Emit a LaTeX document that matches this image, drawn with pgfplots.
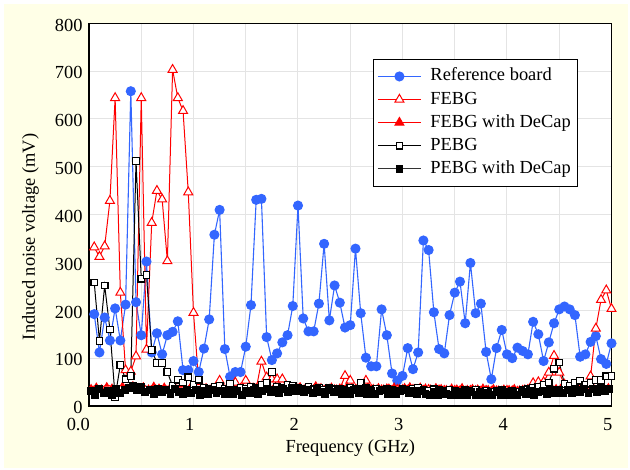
\documentclass[border=0pt]{standalone}
\usepackage{fontspec}
\setmainfont{Liberation Serif}
\usepackage{pgfplots}
\usepackage{pgfplotstable}
\pgfplotsset{compat=1.18}
\definecolor{cream}{RGB}{255,255,231}
\definecolor{refblue}{RGB}{51,102,255}
\definecolor{gridgray}{RGB}{228,228,228}

\pgfplotstableread{
x y
0.05 192
0.10 112
0.15 185
0.20 137
0.25 204
0.30 137
0.35 212
0.40 658
0.45 217
0.50 148
0.55 302
0.60 112
0.65 152
0.70 108
0.75 148
0.80 155
0.85 177
0.90 75
0.95 75
1.00 94
1.05 71
1.10 120
1.15 181
1.20 358
1.25 410
1.30 119
1.35 61
1.40 71
1.45 71
1.50 124
1.55 211
1.60 431
1.65 433
1.70 144
1.75 96
1.80 110
1.85 133
1.90 148
1.95 209
2.00 419
2.05 183
2.10 156
2.15 156
2.20 214
2.25 339
2.30 179
2.35 252
2.40 216
2.45 164
2.50 169
2.55 329
2.60 194
2.65 101
2.70 83
2.75 83
2.80 202
2.85 148
2.90 68
2.95 53
3.00 63
3.05 121
3.10 77
3.15 112
3.20 346
3.25 326
3.30 196
3.35 119
3.40 110
3.45 190
3.50 237
3.55 260
3.60 173
3.65 299
3.70 194
3.75 214
3.80 113
3.85 56
3.90 121
3.95 159
4.00 108
4.05 100
4.10 122
4.15 115
4.20 108
4.25 176
4.30 150
4.35 94
4.40 133
4.45 173
4.50 202
4.55 208
4.60 202
4.65 190
4.70 103
4.75 108
4.80 134
4.85 146
4.90 98
4.95 88
5.00 131
}\refboard

\pgfplotstableread{
x y
0.05 332
0.10 312
0.15 334
0.20 429
0.25 644
0.30 237
0.35 75
0.40 72
0.45 104
0.50 644
0.55 118
0.60 383
0.65 450
0.70 432
0.75 303
0.80 703
0.85 644
0.90 617
0.95 447
1.00 195
1.05 50
1.10 34
1.15 32
1.20 35
1.25 53
1.30 33
1.35 34
1.40 49
1.45 36
1.50 53
1.55 33
1.60 36
1.65 93
1.70 60
1.75 56
1.80 56
1.85 56
1.90 34
1.95 33
2.00 35
2.05 32
2.10 34
2.15 33
2.20 35
2.25 32
2.30 34
2.35 33
2.40 35
2.45 63
2.50 53
2.55 34
2.60 33
2.65 53
2.70 34
2.75 32
2.80 33
2.85 35
2.90 32
2.95 34
3.00 33
3.05 32
3.10 34
3.15 33
3.20 32
3.25 34
3.30 31
3.35 33
3.40 32
3.45 30
3.50 32
3.55 31
3.60 30
3.65 32
3.70 31
3.75 30
3.80 32
3.85 30
3.90 31
3.95 30
4.00 32
4.05 31
4.10 30
4.15 32
4.20 34
4.25 48
4.30 50
4.35 50
4.40 70
4.45 105
4.50 70
4.55 45
4.60 35
4.65 34
4.70 36
4.75 35
4.80 62
4.85 162
4.90 222
4.95 242
5.00 203
}\febg

\pgfplotstableread{
x y
0.02 40
0.07 43
0.12 39
0.17 44
0.22 41
0.27 38
0.32 45
0.37 40
0.42 46
0.47 42
0.52 44
0.57 39
0.62 45
0.67 41
0.72 43
0.77 40
0.82 44
0.87 42
0.92 39
0.97 43
1.02 41
1.07 38
1.12 42
1.17 40
1.22 43
1.27 39
1.32 41
1.37 44
1.42 40
1.47 42
1.52 39
1.57 43
1.62 41
1.67 44
1.72 40
1.77 42
1.82 45
1.87 41
1.92 43
1.97 40
2.02 44
2.07 41
2.12 39
2.17 46
2.22 42
2.27 40
2.32 43
2.37 39
2.42 41
2.47 44
2.52 40
2.57 42
2.62 39
2.67 43
2.72 40
2.77 42
2.82 39
2.87 41
2.92 43
2.97 40
3.02 42
3.07 44
3.12 40
3.17 43
3.22 41
3.27 39
3.32 42
3.37 40
3.42 38
3.47 41
3.52 39
3.57 42
3.62 38
3.67 40
3.72 39
3.77 41
3.82 38
3.87 40
3.92 37
3.97 39
4.02 38
4.07 40
4.12 37
4.17 39
4.22 38
4.27 42
4.32 44
4.37 41
4.42 43
4.47 40
4.52 42
4.57 39
4.62 41
4.67 43
4.72 40
4.77 42
4.82 44
4.87 41
4.92 43
4.97 42
5.02 44
}\febgdc

\pgfplotstableread{
x y
0.05 258
0.10 136
0.15 252
0.20 160
0.25 19
0.30 86
0.35 56
0.40 63
0.45 512
0.50 266
0.55 274
0.60 117
0.65 90
0.70 90
0.75 71
0.80 42
0.85 55
0.90 49
0.95 60
1.00 45
1.05 55
1.10 38
1.15 35
1.20 40
1.25 42
1.30 36
1.35 46
1.40 34
1.45 38
1.50 36
1.55 40
1.60 37
1.65 44
1.70 49
1.75 71
1.80 40
1.85 38
1.90 45
1.95 42
2.00 38
2.05 36
2.10 40
2.15 35
2.20 38
2.25 34
2.30 37
2.35 35
2.40 36
2.45 34
2.50 38
2.55 35
2.60 49
2.65 37
2.70 34
2.75 36
2.80 33
2.85 35
2.90 34
2.95 32
3.00 35
3.05 33
3.10 36
3.15 38
3.20 34
3.25 32
3.30 35
3.35 33
3.40 31
3.45 34
3.50 32
3.55 30
3.60 33
3.65 31
3.70 34
3.75 30
3.80 32
3.85 29
3.90 31
3.95 33
4.00 30
4.05 32
4.10 30
4.15 33
4.20 35
4.25 38
4.30 40
4.35 45
4.40 49
4.45 78
4.50 91
4.55 46
4.60 42
4.65 49
4.70 53
4.75 45
4.80 48
4.85 54
4.90 54
4.95 62
5.00 63
}\pebg

\pgfplotstableread{
x y
0.02 31
0.06 24
0.10 35
0.14 27
0.18 32
0.22 23
0.26 36
0.30 28
0.34 33
0.38 38
0.42 41
0.46 33
0.50 39
0.54 29
0.58 34
0.62 25
0.66 36
0.70 29
0.74 34
0.78 26
0.82 35
0.86 29
0.90 25
0.94 34
0.98 27
1.02 33
1.06 24
1.10 32
1.14 26
1.18 34
1.22 27
1.26 32
1.30 25
1.34 33
1.38 26
1.42 31
1.46 24
1.50 32
1.54 27
1.58 34
1.62 26
1.66 32
1.70 36
1.74 29
1.78 34
1.82 28
1.86 35
1.90 30
1.94 37
1.98 31
2.02 36
2.06 29
2.10 34
2.14 28
2.18 35
2.22 30
2.26 26
2.30 34
2.34 29
2.38 33
2.42 26
2.46 32
2.50 25
2.54 33
2.58 27
2.62 34
2.66 26
2.70 32
2.74 25
2.78 31
2.82 33
2.86 26
2.90 32
2.94 25
2.98 31
3.02 34
3.06 27
3.10 32
3.14 25
3.18 31
3.22 26
3.26 23
3.30 30
3.34 24
3.38 31
3.42 25
3.46 22
3.50 29
3.54 24
3.58 30
3.62 23
3.66 29
3.70 24
3.74 30
3.78 23
3.82 28
3.86 22
3.90 29
3.94 24
3.98 30
4.02 23
4.06 29
4.10 24
4.14 30
4.18 25
4.22 31
4.26 24
4.30 30
4.34 32
4.38 26
4.42 33
4.46 27
4.50 34
4.54 28
4.58 33
4.62 27
4.66 34
4.70 29
4.74 35
4.78 28
4.82 36
4.86 30
4.90 37
4.94 31
4.98 36
5.02 33
}\pebgdc

\begin{document}
\begin{tikzpicture}
\useasboundingbox (0,0) rectangle (630bp,470bp);
\fill[white] (0,0) rectangle (630bp,470bp);
\fill[cream] (4bp,2bp) rectangle (628bp,466bp);
\begin{axis}[
  at={(89bp,64bp)}, anchor=south west,
  scale only axis, width=522.5bp, height=382.7bp,
  xmin=0, xmax=5, ymin=0, ymax=800,
  xtick={0,1,2,3,4,5}, xticklabels={0.0,1,2,3,4,5},
  minor xtick={0.5,1.5,2.5,3.5,4.5},
  ytick={0,100,...,800},
  major tick length=0pt, minor tick length=0pt,
  grid=both,
  major grid style={draw=gridgray, line width=1bp},
  minor grid style={draw=gridgray, line width=1bp},
  axis line style={line width=1.5bp, black},
  axis background/.style={fill=white},
  /pgf/number format/assume math mode=true,
  tick label style={font=\rmfamily\fontsize{18.5}{22}\selectfont, inner sep=0pt},
  xticklabel style={anchor=base east, xshift=1bp, yshift=-24.5bp},
  yticklabel style={anchor=base east, xshift=-6.3bp, yshift=-7.8bp},
  label style={font=\rmfamily\fontsize{18.5}{22}\selectfont},
  xlabel={Frequency (GHz)},
  xlabel style={at={(axis description cs:0.5,-0.1215)}, anchor=base, inner sep=0pt},
  ylabel={Induced noise voltage (mV)},
  ylabel style={at={(axis description cs:-0.1118,0.4416)}, anchor=center, inner sep=0pt},
  legend style={at={(0.5435,0.908)}, anchor=north west, draw=black, line width=0.8bp,
    fill=white, font=\rmfamily\fontsize{18.5}{22}\selectfont, inner xsep=4bp, inner ysep=6bp,
    row sep=0pt, nodes={text height=13.5bp, text depth=4.6bp, inner ysep=2.5bp, inner xsep=3bp},
    /tikz/every odd column/.append style={column sep=6bp}},
  legend cell align=left,
  legend image code/.code={\draw[mark repeat=2,mark phase=2,#1] plot coordinates {(0bp,0bp) (21.5bp,0bp) (43bp,0bp)};},
]
\addplot[refblue, line width=1.1bp, mark=*, mark size=4.5pt, mark options={solid, fill=refblue, draw=refblue}] table[x=x,y=y] {\refboard};
\addlegendentry{Reference board}
\addplot[red, line width=1bp, mark=triangle*, mark size=5.2pt, mark options={solid, fill=white, draw=red, line width=1bp}] table[x=x,y=y] {\febg};
\addlegendentry{FEBG}
\addplot[red, line width=1bp, mark=triangle*, mark size=2.2pt, mark options={solid, fill=red, draw=red}, forget plot] table[x=x,y=y] {\febgdc};
\addlegendimage{red, line width=1bp, mark=triangle*, mark size=5.2pt, mark options={solid, fill=red, draw=red}}
\addlegendentry{FEBG with DeCap}
\addplot[black, line width=1bp, mark=square*, mark size=3.3pt, mark options={solid, fill=white, draw=black, line width=1.2bp}] table[x=x,y=y] {\pebg};
\addlegendentry{PEBG}
\addplot[black, line width=1.6bp, mark=square*, mark size=3.2pt, mark options={solid, fill=black, draw=black}, forget plot] table[x=x,y=y] {\pebgdc};
\addlegendimage{black!80, line width=1bp, mark=square*, mark size=3.3pt, mark options={solid, fill=black, draw=black}}
\addlegendentry{PEBG with DeCap}
\end{axis}
\end{tikzpicture}
\end{document}
